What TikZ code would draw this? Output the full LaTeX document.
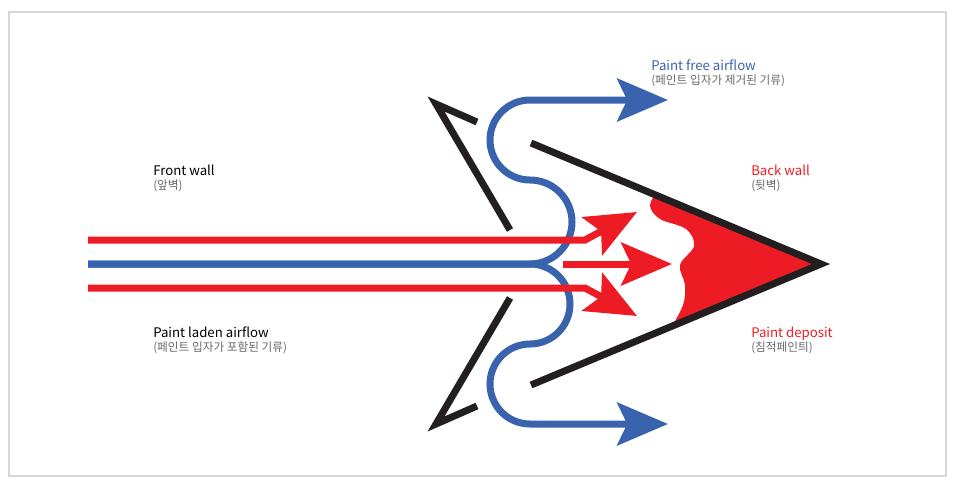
\documentclass[tikz,border=0pt]{standalone}
\usepackage{fontspec}
\setmainfont{Noto Sans CJK KR}
\usetikzlibrary{arrows.meta}

\definecolor{paintred}{RGB}{237,28,36}
\definecolor{airblue}{RGB}{58,99,174}
\definecolor{wallblack}{RGB}{35,31,32}
\definecolor{notegray}{RGB}{105,105,108}
\definecolor{framegray}{RGB}{215,215,215}
\def\s{0.025}
\def\punkt#1#2{({(#1)*\s},{-(#2)*\s})}

\begin{document}
\begin{tikzpicture}[>={Stealth[length=1.27cm,width=1.07cm,inset=0.25cm]},
  flow/.style={line width=0.175cm},
  wall/.style={line width=0.175cm,color=wallblack},
  headline/.style={anchor=base west,inner sep=0pt,font=\fontsize{9.4}{11}\selectfont},
  subline/.style={anchor=base west,inner sep=0pt,color=notegray,font=\fontsize{8.3}{10}\selectfont}]
\useasboundingbox \punkt{0}{0} rectangle \punkt{955}{486};
\draw[color=framegray,line width=0.8pt] \punkt{9}{12} rectangle \punkt{946}{476};
% paint deposit on the back wall
\fill[color=paintred] plot[smooth,tension=0.6] coordinates {\punkt{656}{193} \punkt{650}{206} \punkt{660}{219} \punkt{686}{229} \punkt{694}{246} \punkt{680}{265} \punkt{685}{285} \punkt{683}{305} \punkt{671}{328}}
  -- \punkt{821}{264} -- cycle;
\draw[wall] \punkt{531}{143} -- \punkt{821}{264} -- \punkt{531}{385};
% front wall
\draw[wall] \punkt{510}{230} -- \punkt{436}{104} -- \punkt{477}{122};
\draw[wall] \punkt{510}{298} -- \punkt{436}{424} -- \punkt{477}{406};
% airflow
\draw[flow,color=airblue,->] \punkt{88}{264} -- \punkt{530}{264}
  arc[start angle=-90,end angle=90,radius=42*\s]
  arc[start angle=-90,end angle=-270,radius=40*\s] -- \punkt{668}{100};
\draw[flow,color=airblue,->] \punkt{88}{264} -- \punkt{530}{264}
  arc[start angle=90,end angle=-90,radius=40*\s]
  arc[start angle=90,end angle=270,radius=40*\s] -- \punkt{668}{424};
\draw[flow,color=paintred,->] \punkt{88}{240} -- \punkt{585}{240} -- \punkt{637}{212};
\draw[flow,color=paintred,->] \punkt{563}{264} -- \punkt{672}{264};
\draw[flow,color=paintred,->] \punkt{88}{288} -- \punkt{585}{288} -- \punkt{637}{316};
% labels
\node[headline] (frontwall) at \punkt{153}{175} {Front wall};
\node[subline] (frontwallko) at \punkt{153}{189} {(앞벽)};
\node[headline] (ladenflow) at \punkt{153}{337} {Paint laden airflow};
\node[subline] (ladenflowko) at \punkt{153}{351} {(페인트 입자가 포함된 기류)};
\node[headline,color=airblue] (freeflow) at \punkt{651}{70} {Paint free airflow};
\node[subline] (freeflowko) at \punkt{651}{84} {(페인트 입자가 제거된 기류)};
\node[headline,color=paintred] (backwall) at \punkt{751}{175} {Back wall};
\node[subline] (backwallko) at \punkt{751}{189} {(뒷벽)};
\node[headline,color=paintred] (deposit) at \punkt{751}{337} {Paint deposit};
\node[subline] (depositko) at \punkt{751}{351} {(침적페인틔)};
\end{tikzpicture}
\end{document}
